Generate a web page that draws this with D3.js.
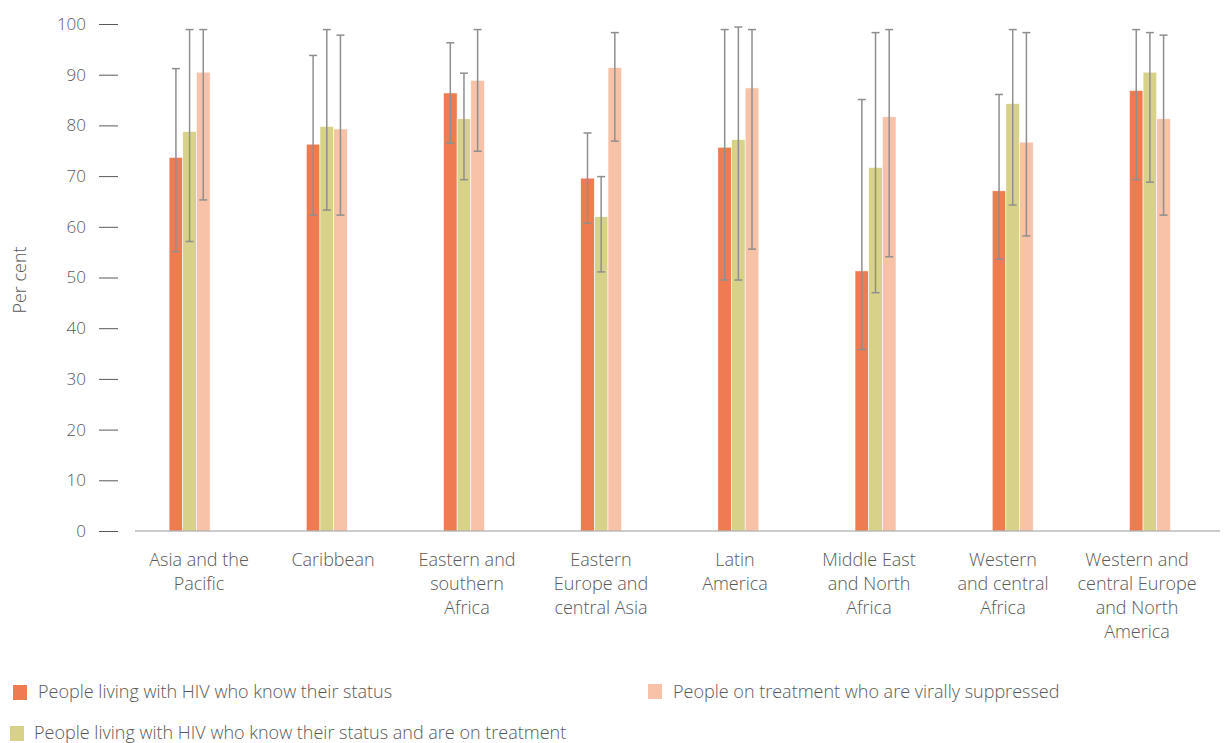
<!DOCTYPE html>
<html>
<head>
<meta charset="utf-8">
<script src="https://cdn.jsdelivr.net/npm/d3@7"></script>
<style>
  html, body { margin: 0; padding: 0; background: #fff; }
  svg { display: block; font-family: "Open Sans", Lato, sans-serif; }
</style>
</head>
<body>
<svg id="chart" width="1229" height="743"></svg>
<script>
const categories = [
  "Asia and the\nPacific",
  "Caribbean",
  "Eastern and\nsouthern\nAfrica",
  "Eastern\nEurope and\ncentral Asia",
  "Latin\nAmerica",
  "Middle East\nand North\nAfrica",
  "Western\nand central\nAfrica",
  "Western and\ncentral Europe\nand North\nAmerica"
];
const seriesNames = [
  "People living with HIV who know their status",
  "People living with HIV who know their status and are on treatment",
  "People on treatment who are virally suppressed"
];
const knowStatus     = [73.7, 76.3, 86.4, 69.6, 75.7, 51.3, 67.1, 86.9];
const knowStatusLow  = [55.1, 62.3, 76.5, 60.7, 49.5, 35.8, 53.6, 69.3];
const knowStatusHigh = [91.2, 93.8, 96.3, 78.5, 98.9, 85.1, 86.1, 98.9];
const onTreatment     = [78.8, 79.8, 81.3, 62.0, 77.2, 71.7, 84.3, 90.5];
const onTreatmentLow  = [57.1, 63.3, 69.3, 51.1, 49.5, 47.0, 64.3, 68.8];
const onTreatmentHigh = [98.9, 98.9, 90.3, 69.9, 99.4, 98.3, 98.9, 98.3];
const suppressed     = [90.5, 79.3, 88.9, 91.4, 87.4, 81.7, 76.7, 81.3];
const suppressedLow  = [65.3, 62.3, 74.9, 76.9, 55.6, 54.1, 58.2, 62.3];
const suppressedHigh = [98.9, 97.8, 98.9, 98.3, 98.9, 98.9, 98.3, 97.8];
const yTicks = [0, 10, 20, 30, 40, 50, 60, 70, 80, 90, 100];
const colors = ["#EF7B50", "#D8D189", "#F8C2A8"];

const seriesData = [
  { name: seriesNames[0], values: knowStatus, low: knowStatusLow, high: knowStatusHigh },
  { name: seriesNames[1], values: onTreatment, low: onTreatmentLow, high: onTreatmentHigh },
  { name: seriesNames[2], values: suppressed, low: suppressedLow, high: suppressedHigh }
];

const svg = d3.select("#chart");
const textColor = "#595959";
const fontFam = "'Open Sans', Lato, sans-serif";

const y = d3.scaleLinear().domain([0, 100]).range([531, 24]);
const x0 = d3.scaleBand().domain(categories).range([121, 1218.5]).padding(0);
const groupW = 41;
const x1 = d3.scaleBand().domain(d3.range(seriesData.length)).range([0, groupW]).padding(0);
const xLabel = d3.scaleBand().domain(categories).range([132, 1204]).padding(0);

// Y axis ticks and labels
const yAxis = d3.axisLeft(y).tickValues(yTicks).tickSize(19).tickPadding(13);
const yg = svg.append("g").attr("transform", "translate(118,0)").call(yAxis);
yg.select(".domain").remove();
yg.selectAll(".tick line").attr("stroke", "#595959").attr("stroke-width", 1);
yg.selectAll(".tick text").attr("fill", textColor).style("font-size", "17px")
  .style("font-family", fontFam).style("font-weight", 300);

// Y title
svg.append("text")
  .attr("transform", "translate(26,280) rotate(-90)")
  .attr("text-anchor", "middle")
  .attr("fill", textColor)
  .style("font-size", "18px").style("font-weight", 300)
  .text("Per cent");

// Bars
const groups = svg.append("g").selectAll("g.grp")
  .data(categories).join("g")
  .attr("class", "grp")
  .attr("transform", c => `translate(${x0(c) + (x0.bandwidth() - groupW) / 2},0)`);

groups.selectAll("rect")
  .data((c, ci) => seriesData.map((s, si) => ({ si, v: s.values[ci] })))
  .join("rect")
  .attr("x", d => x1(d.si))
  .attr("y", d => y(d.v))
  .attr("width", x1.bandwidth())
  .attr("height", d => y(0) - y(d.v))
  .attr("fill", d => colors[d.si])
  .attr("stroke", "#ffffff")
  .attr("stroke-width", 0.6);

// Error bars
const errs = groups.selectAll("g.err")
  .data((c, ci) => seriesData.map((s, si) => ({ si, lo: s.low[ci], hi: s.high[ci] })))
  .join("g").attr("class", "err")
  .attr("transform", d => `translate(${x1(d.si) + x1.bandwidth() / 2},0)`);
const errColor = "#8f8f8f";
errs.append("line").attr("x1", 0).attr("x2", 0)
  .attr("y1", d => y(d.hi)).attr("y2", d => y(d.lo))
  .attr("stroke", errColor).attr("stroke-width", 1.5);
errs.append("line").attr("x1", -4).attr("x2", 4)
  .attr("y1", d => y(d.hi)).attr("y2", d => y(d.hi))
  .attr("stroke", errColor).attr("stroke-width", 1.5);
errs.append("line").attr("x1", -4).attr("x2", 4)
  .attr("y1", d => y(d.lo)).attr("y2", d => y(d.lo))
  .attr("stroke", errColor).attr("stroke-width", 1.5);

// Baseline
svg.append("line")
  .attr("x1", 135).attr("x2", 1220)
  .attr("y1", y(0)).attr("y2", y(0))
  .attr("stroke", "#9a9a9a").attr("stroke-width", 1.2);

// Category labels
const lab = svg.append("g").selectAll("text")
  .data(categories).join("text")
  .attr("text-anchor", "middle")
  .attr("fill", textColor)
  .style("font-size", "18px").style("font-weight", 300)
  .attr("transform", c => `translate(${xLabel(c) + xLabel.bandwidth() / 2},566)`);
lab.selectAll("tspan")
  .data(c => c.split("\n")).join("tspan")
  .attr("x", 0).attr("y", (d, i) => i * 24)
  .text(d => d);

// Legend
const legendPos = [
  { sx: 13, sy: 685, tx: 38, ty: 698 },
  { sx: 10, sy: 726, tx: 34, ty: 739 },
  { sx: 648, sy: 684, tx: 673, ty: 698 }
];
const leg = svg.append("g").selectAll("g")
  .data(seriesData).join("g");
leg.append("rect")
  .attr("x", (d, i) => legendPos[i].sx).attr("y", (d, i) => legendPos[i].sy)
  .attr("width", 14).attr("height", 15)
  .attr("fill", (d, i) => colors[i]);
leg.append("text")
  .attr("x", (d, i) => legendPos[i].tx).attr("y", (d, i) => legendPos[i].ty)
  .attr("fill", textColor)
  .style("font-size", "18px").style("font-weight", 300)
  .text(d => d.name);
</script>
</body>
</html>
